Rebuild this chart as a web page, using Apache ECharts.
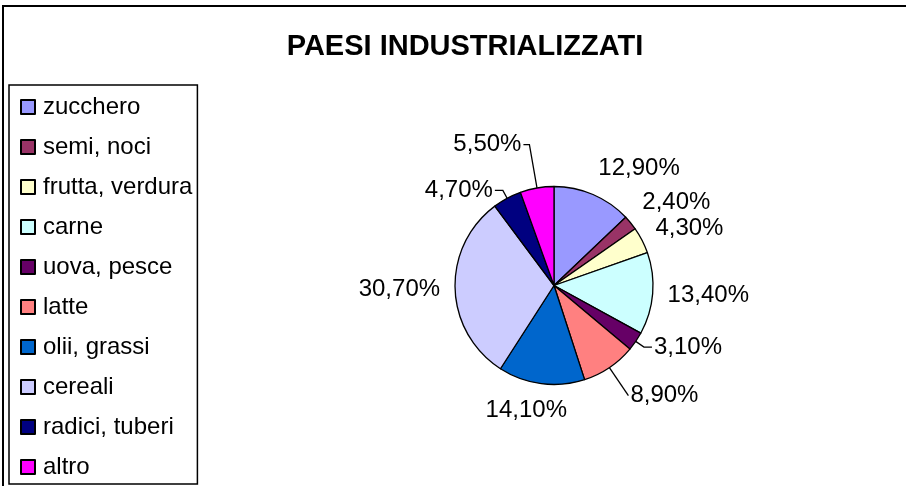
<!DOCTYPE html>
<html>
<head>
<meta charset="utf-8">
<script src="https://cdn.jsdelivr.net/npm/echarts@6/dist/echarts.min.js"></script>
<style>
  html, body { margin: 0; padding: 0; background: #fff; }
  #chart { width: 906px; height: 486px; }
</style>
</head>
<body>
<div id="chart"></div>
<script>
const categories = ["zucchero", "semi, noci", "frutta, verdura", "carne", "uova, pesce",
  "latte", "olii, grassi", "cereali", "radici, tuberi", "altro"];
const values = [12.9, 2.4, 4.3, 13.4, 3.1, 8.9, 14.1, 30.7, 4.7, 5.5];
const colors = ["#9999FF", "#993366", "#FFFFCC", "#CCFFFF", "#660066",
  "#FF8080", "#0066CC", "#CCCCFF", "#000080", "#FF00FF"];
// leader lines (labels moved off the pie): radial part and horizontal part, px
const leaderLen = [0, 0, 0, 0, 10, 34, 0, 0, 9, 44];
const leaderRun = [0, 0, 0, 0, 8, 0, 0, 0, 8, 6];

const FONT = "'Liberation Sans', Arial, sans-serif";
const CX = 554, CY = 285.5, R = 99;

const total = values.reduce((a, b) => a + b, 0);
function midAngle(i) {
  let before = 0;
  for (let k = 0; k < i; k++) before += values[k];
  return (before + values[i] / 2) / total * Math.PI * 2;
}

const chart = echarts.init(document.getElementById("chart"));
chart.setOption({
  animation: false,
  backgroundColor: "#fff",
  title: {
    text: "PAESI INDUSTRIALIZZATI",
    left: 465,
    top: 32,
    padding: 0,
    textAlign: "center",
    textStyle: { fontFamily: FONT, fontSize: 29, fontWeight: "bold", color: "#000" },
  },
  graphic: [
    {
      type: "rect",
      shape: { x: 3, y: 6, width: 1000, height: 1000 },
      style: { fill: null, stroke: "#000", lineWidth: 2 },
      silent: true,
    },
  ],
  legend: {
    data: categories,
    orient: "vertical",
    left: 9,
    top: 85,
    padding: [10, 5, 5, 11],
    itemGap: 16,
    itemWidth: 14,
    itemHeight: 14,
    icon: "rect",
    selectedMode: false,
    borderColor: "#000",
    borderWidth: 1.5,
    backgroundColor: "#fff",
    textStyle: { fontFamily: FONT, fontSize: 24, lineHeight: 24, color: "#000", padding: [0, 0, 0, 3] },
  },
  series: [
    {
      type: "pie",
      center: [CX, CY],
      radius: R,
      startAngle: 90,
      clockwise: true,
      avoidLabelOverlap: false,
      emphasis: { disabled: true },
      itemStyle: { borderColor: "#000", borderWidth: 1.3 },
      label: {
        show: true,
        position: "outside",
        fontFamily: FONT,
        fontSize: 24,
        color: "#000",
        formatter: (p) => p.value.toFixed(2).replace(".", ",") + "%",
      },
      labelLine: { show: true, length: 0, length2: 0, lineStyle: { color: "#000", width: 1.3 } },
      labelLayout: function (p) {
        const i = p.dataIndex;
        const a = midAngle(i);
        const ux = Math.sin(a), uy = -Math.cos(a);
        const w = p.labelRect.width, h = p.labelRect.height;
        if (leaderLen[i] > 0) {
          const side = ux < 0 ? -1 : 1;
          const ex = CX + R * ux, ey = CY + R * uy;
          const bx = CX + (R + leaderLen[i]) * ux, by = CY + (R + leaderLen[i]) * uy;
          const tx = bx + side * leaderRun[i];
          return {
            x: tx + side * 2, y: by,
            align: side < 0 ? "right" : "left", verticalAlign: "middle",
            labelLinePoints: [[ex, ey], [bx, by], [tx, by]],
          };
        }
        const gap = 114;
        const px = CX + gap * ux, py = CY + gap * uy;
        const fx = Math.max(-1, Math.min(1, ux * 2.5));
        const fy = Math.sign(uy) * Math.min(1, uy * uy * 2.2);
        return { x: px + fx * w / 2, y: py + fy * h / 2, align: "center", verticalAlign: "middle" };
      },
      data: categories.map((name, i) => ({
        name: name,
        value: values[i],
        itemStyle: { color: colors[i] },
        labelLine: { show: leaderLen[i] > 0 },
      })),
    },
  ],
});
</script>
</body>
</html>
